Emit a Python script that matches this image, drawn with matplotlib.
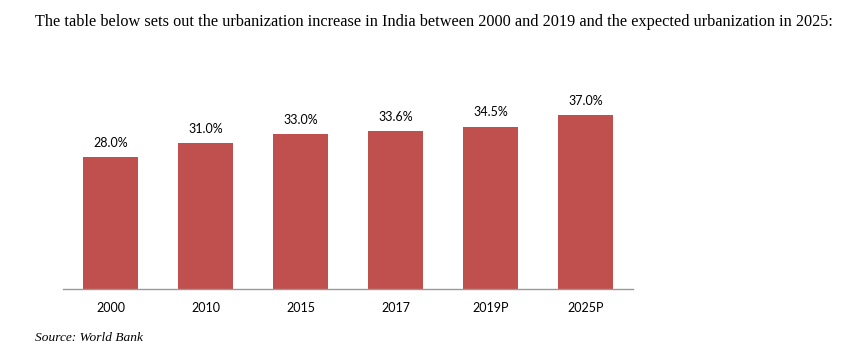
import matplotlib
matplotlib.use("Agg")
import matplotlib.pyplot as plt

years = ["2000", "2010", "2015", "2017", "2019P", "2025P"]
urban = [28.0, 31.0, 33.0, 33.6, 34.5, 37.0]

fig = plt.figure(figsize=(8.48, 3.52), dpi=100)
ax = fig.add_axes([63 / 848, 63 / 352, 570 / 848, 188.4 / 352])

bars = ax.bar(range(len(years)), urban, width=0.57, color="#C0504D")
for b, v in zip(bars, urban):
    ax.text(b.get_x() + b.get_width() / 2, v + 1.7, "%.1f%%" % v,
            ha="center", va="bottom", fontsize=9, family="Lato")

ax.set_xlim(-0.5, 5.5)
ax.set_ylim(0, 40)
ax.set_xticks(range(len(years)))
ax.set_xticklabels(years, fontsize=9, family="Lato")
ax.tick_params(axis="x", length=0, pad=9)
ax.set_yticks([])
for s in ["top", "right", "left"]:
    ax.spines[s].set_visible(False)
ax.spines["bottom"].set_color("#999999")
ax.spines["bottom"].set_linewidth(1)

fig.text(35 / 848, 1 - 22 / 352,
         "The table below sets out the urbanization increase in India between 2000 and 2019 and the expected urbanization in 2025:",
         family="Liberation Serif", fontsize=11.7, va="center", ha="left")
fig.text(35 / 848, 1 - 338 / 352, "Source: World Bank",
         family="Liberation Serif", style="italic", fontsize=9.6, va="center", ha="left")

fig.savefig("out.png", dpi=100)
